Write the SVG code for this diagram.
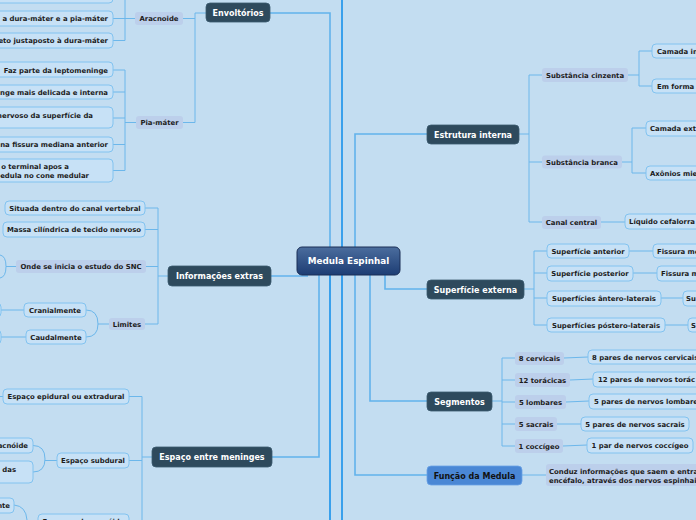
<svg xmlns="http://www.w3.org/2000/svg" width="696" height="520" viewBox="0 0 696 520">
<defs>
<linearGradient id="cg" x1="0" y1="0" x2="0" y2="1">
<stop offset="0" stop-color="#4b6d9e"/>
<stop offset="1" stop-color="#1d3d74"/>
</linearGradient>
<style>
.main{fill:#2e4a5d;stroke:#3b5b70;stroke-width:0.8}
.mt{font-family:"DejaVu Sans",Verdana,sans-serif;font-weight:bold;font-size:8px;fill:#ffffff;text-anchor:middle}
.sub{fill:#bccfeb}
.box{fill:#c7e1f6;stroke:#82c3f0;stroke-width:1}
.st{font-family:"DejaVu Sans",Verdana,sans-serif;font-weight:bold;font-size:6.9px;fill:#1c1c1c}
.m{text-anchor:middle}
.e{text-anchor:end}
.c{stroke:#6cb7eb;fill:none;stroke-width:1}
.cm{stroke:#62b2ec;fill:none;stroke-width:1.6}
.ct{stroke:#39a0ec;fill:none;stroke-width:2}
</style>
</defs>
<rect width="696" height="520" fill="#c3ddf1"/>

<g id="connectors">
<path class="cm" d="M270,13 H330 V261"/>
<path class="ct" d="M330,261 V520 M342,0 V520"/>
<path class="cm" d="M355,261 V134 H427"/>
<path class="cm" d="M355,261 V475 H427"/>
<path class="cm" d="M270,276 H308"/>
<path class="cm" d="M272,457 H319 V261"/>
<path class="cm" d="M370,261 V401 H427"/>
<path class="cm" d="M385,261 V289 H427"/>
<!-- Envoltórios -->
<path class="c" d="M206,13 H195 M195,13 V122.5 H183 M183,18.5 H195"/>
<path class="c" d="M135,18.5 H125 M125,0 V40.5 M113,18.5 H125 M113,40.5 H125"/>
<path class="c" d="M136,122.5 H125 M125,70 V170.5 M113,70 H125 M113,92 H125 M113,118 H125 M113,144.5 H125 M113,170.5 H125"/>
<!-- Informações extras -->
<path class="c" d="M168,276 H158 M158,208 V324 M145,208 H158 M145,229.5 H158 M146,266.5 H158 M145,324 H158"/>
<path class="c" d="M16,266.5 H6 M0,255 Q6,256 6,266.5 Q6,277 0,278"/>
<path class="c" d="M109,324 H98 M86,310 Q98,310 98,324 Q98,337 86,337"/>
<path class="c" d="M0,310 H24 M0,337 H26"/>
<!-- Espaço entre meninges -->
<path class="c" d="M152,457 H142 M142,396.5 V520 M129,396.5 H142 M129,460.5 H142 M0,396.5 H3"/>
<path class="c" d="M57,460.5 H45 M33,445.5 Q45,445.5 45,459 Q45,472 33,472"/>
<path class="c" d="M14,505 Q26,506 27,520"/>
<!-- Estrutura interna -->
<path class="c" d="M519,134 H529 M529,75 V222 M529,75 H542 M529,162 H542 M529,222 H542"/>
<path class="c" d="M628,75 H639 M639,51 V86 M639,51 H652 M639,86 H652"/>
<path class="c" d="M622,162 H632 M632,128 V173 M632,128 H646 M632,173 H646"/>
<path class="c" d="M601,222 H625"/>
<!-- Superfície externa -->
<path class="c" d="M524,289 H534 M534,251 V325 M534,251 H547 M534,273 H547 M534,298 H547 M534,325 H547"/>
<path class="c" d="M629,251 H653 M633,273 H657 M661,298 H683 M665,325 H688"/>
<!-- Segmentos -->
<path class="c" d="M492,401 H502 M502,358 V446 M502,358 H515 M502,380 H515 M502,402 H515 M502,424 H515 M502,446 H515"/>
<path class="c" d="M564,358 L588,357 M570,380 L593,379 M566,402 L589,401 M557,424 L581,424 M563,446 L587,445"/>
<!-- Função -->
<path class="c" d="M522,475 H546"/>
</g>

<g id="medula-espinhal">
<rect x="297" y="247" width="103" height="28" rx="5" fill="url(#cg)" stroke="#1b2f57" stroke-width="1"/>
<text x="348.5" y="264" class="mt" style="font-size:8.8px">Medula Espinhal</text>
</g>

<g id="envoltorios"><rect class="main" x="206" y="3" width="64" height="19" rx="4"/><text class="mt" x="238" y="16">Envoltórios</text></g>
<g id="informacoes-extras"><rect class="main" x="168" y="266" width="103" height="20" rx="4"/><text class="mt" x="219.5" y="279">Informações extras</text></g>
<g id="espaco-entre-meninges"><rect class="main" x="152" y="447" width="120" height="20" rx="4"/><text class="mt" x="212" y="460">Espaço entre meninges</text></g>
<g id="estrutura-interna"><rect class="main" x="427" y="125" width="92" height="19" rx="4"/><text class="mt" x="473" y="137.5">Estrutura interna</text></g>
<g id="superficie-externa"><rect class="main" x="427" y="280" width="97" height="19" rx="4"/><text class="mt" x="475.5" y="292.5">Superfície externa</text></g>
<g id="segmentos"><rect class="main" x="427" y="392" width="65" height="19" rx="4"/><text class="mt" x="459.5" y="404.5">Segmentos</text></g>
<g id="funcao-da-medula"><rect x="427" y="466" width="95" height="19" rx="4" fill="#4a87d5" stroke="#6aa2e6" stroke-width="0.8"/><text class="mt" x="474.5" y="478.5" style="fill:#111">Função da Medula</text></g>

<!-- Envoltórios children -->
<g id="aracnoide"><rect class="sub" x="135" y="12" width="48" height="13" rx="3"/><text class="st m" x="159" y="21">Aracnoide</text></g>
<g id="pia-mater"><rect class="sub" x="136" y="116" width="47" height="13" rx="3"/><text class="st m" x="159.5" y="125">Pia-máter</text></g>
<g id="arac-0"><rect class="box" x="-10" y="-12" width="123" height="15" rx="4"/></g>
<g id="arac-1"><rect class="box" x="-10" y="11" width="123" height="15" rx="4"/><text class="st e" x="108" y="21">a dura-máter e a pia-máter</text></g>
<g id="arac-2"><rect class="box" x="-10" y="33" width="123" height="15" rx="4"/><text class="st e" x="108" y="43">eto justaposto à dura-máter</text></g>
<g id="pia-1"><rect class="box" x="-10" y="62" width="123" height="15" rx="4"/><text class="st e" x="108" y="72.5">Faz parte da leptomeninge</text></g>
<g id="pia-2"><rect class="box" x="-10" y="85" width="123" height="14" rx="4"/><text class="st e" x="108" y="94.5">nge mais delicada e interna</text></g>
<g id="pia-3"><rect class="box" x="-10" y="107" width="123" height="21" rx="4"/><text class="st e" x="93" y="117.5">nervoso da superfície da</text></g>
<g id="pia-4"><rect class="box" x="-10" y="137" width="123" height="15" rx="4"/><text class="st e" x="108" y="147">na fissura mediana anterior</text></g>
<g id="pia-5"><rect class="box" x="-10" y="159" width="123" height="23" rx="4"/><text class="st e" x="69" y="168.5">o terminal apos a</text><text class="st e" x="89" y="177.5">edula no cone medular</text></g>

<!-- Informações extras children -->
<g id="situada"><rect class="box" x="5" y="201" width="140" height="14" rx="4"/><text class="st m" x="75" y="210.5">Situada dentro do canal vertebral</text></g>
<g id="massa"><rect class="box" x="3" y="222" width="142" height="15" rx="4"/><text class="st m" x="74" y="232">Massa cilíndrica de tecido nervoso</text></g>
<g id="onde"><rect class="sub" x="16" y="260" width="130" height="13" rx="3"/><text class="st m" x="81" y="269">Onde se inicia o estudo do SNC</text></g>
<g id="limites"><rect class="sub" x="109" y="318" width="36" height="12" rx="3"/><text class="st m" x="127" y="326.5">Limites</text></g>
<g id="cranialmente"><rect class="box" x="24" y="303" width="62" height="14" rx="4"/><text class="st m" x="55" y="312.5">Cranialmente</text></g>
<g id="caudalmente"><rect class="box" x="26" y="330" width="60" height="14" rx="4"/><text class="st m" x="56" y="339.5">Caudalmente</text></g>
<g id="cran-child"><rect class="box" x="-20" y="303" width="21" height="14" rx="4"/></g>
<g id="caud-child"><rect class="box" x="-20" y="330" width="21" height="14" rx="4"/></g>

<!-- Espaço entre meninges children -->
<g id="epidural"><rect class="box" x="3" y="389" width="126" height="15" rx="4"/><text class="st m" x="66" y="399">Espaço epidural ou extradural</text></g>
<g id="subdural"><rect class="box" x="57" y="453" width="72" height="15" rx="4"/><text class="st m" x="93" y="463">Espaço subdural</text></g>
<g id="sub-1"><rect class="box" x="-40" y="438" width="73" height="15" rx="4"/><text class="st e" x="28" y="448">acnóide</text></g>
<g id="sub-2"><rect class="box" x="-40" y="461" width="73" height="22" rx="4"/><text class="st e" x="16" y="472">das</text></g>
<g id="subarac-1"><rect class="box" x="-40" y="498" width="54" height="15" rx="4"/><text class="st e" x="10" y="508">nte</text></g>
<g id="subaracnoide"><rect class="box" x="38" y="514" width="91" height="16" rx="4"/><text class="st m" x="83.5" y="524">Espaço subaracnóide</text></g>

<!-- Estrutura interna children -->
<g id="subst-cinzenta"><rect class="sub" x="542" y="68" width="86" height="14" rx="3"/><text class="st m" x="585" y="77.5">Substância cinzenta</text></g>
<g id="subst-branca"><rect class="sub" x="542" y="155.5" width="80" height="13" rx="3"/><text class="st m" x="582" y="164.5">Substância branca</text></g>
<g id="canal-central"><rect class="sub" x="542" y="216" width="59" height="13" rx="3"/><text class="st m" x="571.5" y="225">Canal central</text></g>
<g id="camada-in"><rect class="box" x="652" y="44" width="60" height="14" rx="4"/><text class="st" x="657" y="53.5">Camada in</text></g>
<g id="em-forma"><rect class="box" x="652" y="79" width="60" height="14" rx="4"/><text class="st" x="657" y="88.5">Em forma</text></g>
<g id="camada-ext"><rect class="box" x="646" y="121" width="60" height="15" rx="4"/><text class="st" x="650" y="131">Camada ext</text></g>
<g id="axonios"><rect class="box" x="646" y="166" width="60" height="14" rx="4"/><text class="st" x="650" y="175.5">Axônios mie</text></g>
<g id="liquido"><rect class="box" x="625" y="214" width="80" height="15" rx="4"/><text class="st" x="629" y="224">Líquido cefalorra</text></g>

<!-- Superfície externa children -->
<g id="sup-anterior"><rect class="box" x="547" y="244" width="82" height="14" rx="4"/><text class="st m" x="588" y="253.5">Superfície anterior</text></g>
<g id="sup-posterior"><rect class="box" x="547" y="266" width="86" height="15" rx="4"/><text class="st m" x="590" y="276">Superfície posterior</text></g>
<g id="sup-antero"><rect class="box" x="547" y="291" width="114" height="15" rx="4"/><text class="st m" x="604" y="301">Superfícies ântero-laterais</text></g>
<g id="sup-postero"><rect class="box" x="547" y="318" width="118" height="14" rx="4"/><text class="st m" x="606" y="327.5">Superfícies póstero-laterais</text></g>
<g id="fissura-1"><rect class="box" x="653" y="244" width="50" height="14" rx="4"/><text class="st" x="657" y="253.5">Fissura me</text></g>
<g id="fissura-2"><rect class="box" x="657" y="266" width="50" height="15" rx="4"/><text class="st" x="661" y="276">Fissura m</text></g>
<g id="sulco-1"><rect class="box" x="683" y="291" width="20" height="15" rx="4"/><text class="st" x="686" y="301">Su</text></g>
<g id="sulco-2"><rect class="box" x="688" y="318" width="20" height="14" rx="4"/><text class="st" x="691" y="327.5">S</text></g>

<!-- Segmentos children -->
<g id="cervicais"><rect class="sub" x="515" y="352" width="49" height="13" rx="3"/><text class="st m" x="539.5" y="361">8 cervicais</text></g>
<g id="toracicas"><rect class="sub" x="515" y="373" width="55" height="14" rx="3"/><text class="st m" x="542.5" y="382.5">12 torácicas</text></g>
<g id="lombares"><rect class="sub" x="515" y="395" width="51" height="14" rx="3"/><text class="st m" x="540.5" y="404.5">5 lombares</text></g>
<g id="sacrais"><rect class="sub" x="515" y="417" width="42" height="14" rx="3"/><text class="st m" x="536" y="426.5">5 sacrais</text></g>
<g id="coccigeo"><rect class="sub" x="515" y="439" width="48" height="14" rx="3"/><text class="st m" x="539" y="448.5">1 coccígeo</text></g>
<g id="pares-cervicais"><rect class="box" x="588" y="350" width="120" height="14" rx="4"/><text class="st" x="592" y="359.5">8 pares de nervos cervicais</text></g>
<g id="pares-toracicos"><rect class="box" x="593" y="372" width="120" height="15" rx="4"/><text class="st" x="598" y="382">12 pares de nervos torác</text></g>
<g id="pares-lombares"><rect class="box" x="589" y="394" width="120" height="15" rx="4"/><text class="st" x="594" y="404">5 pares de nervos lombare</text></g>
<g id="pares-sacrais"><rect class="box" x="581" y="417" width="108" height="14" rx="4"/><text class="st m" x="635" y="426.5">5 pares de nervos sacrais</text></g>
<g id="par-coccigeo"><rect class="box" x="587" y="438" width="106" height="15" rx="4"/><text class="st m" x="640" y="448">1 par de nervos coccígeo</text></g>

<!-- Função child -->
<g id="conduz"><rect class="sub" x="546" y="464" width="160" height="22" rx="3"/><text class="st" x="549" y="473.5">Conduz informações que saem e entra</text><text class="st" x="549" y="482.5">encéfalo, através dos nervos espinhai</text></g>
</svg>
